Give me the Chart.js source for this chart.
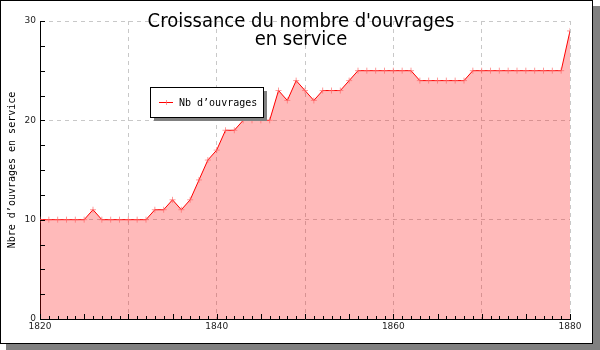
<!DOCTYPE html>
<html>
<head>
<meta charset="utf-8">
<script src="https://cdn.jsdelivr.net/npm/chart.js@4/dist/chart.umd.min.js"></script>
<style>
  html, body { margin: 0; padding: 0; background: #fff; }
  #wrap { width: 600px; height: 350px; position: relative; }
</style>
</head>
<body>
<div id="wrap"><canvas id="chart" width="600" height="350"></canvas></div>
<script>
// years 1820 -> 1880
const years = [];
for (let y = 1820; y <= 1880; y++) years.push(y);

const nbOuvrages = [
  10, 10, 10, 10, 10, 10, 11, 10, 10, 10,   // 1820-1829
  10, 10, 10, 11, 11, 12, 11, 12, 14, 16,   // 1830-1839
  17, 19, 19, 20, 20, 20, 20, 23, 22, 24,   // 1840-1849
  23, 22, 23, 23, 23, 24, 25, 25, 25, 25,   // 1850-1859
  25, 25, 25, 24, 24, 24, 24, 24, 24, 25,   // 1860-1869
  25, 25, 25, 25, 25, 25, 25, 25, 25, 25,   // 1870-1879
  29                                        // 1880
];

const xTickLabels = [1820, 1840, 1860, 1880];
const yTickLabels = [0, 10, 20, 30];
const titleLines = ["Croissance du nombre d'ouvrages", "en service"];
const legendLabel = "Nb d\u2019ouvrages";
const yAxisTitle = "Nbre d\u2019ouvrages en service";

// frame with drop shadow, title, small ticks and legend box
const decorations = {
  id: 'decorations',
  beforeDraw(chart) {
    const ctx = chart.ctx;
    ctx.save();
    ctx.fillStyle = '#808080';
    ctx.fillRect(593, 6, 7, 344);
    ctx.fillRect(6, 344, 594, 6);
    ctx.fillStyle = '#fff';
    ctx.fillRect(0, 0, 593, 344);
    ctx.strokeStyle = '#000';
    ctx.lineWidth = 1;
    ctx.strokeRect(0.5, 0.5, 592, 343);
    ctx.restore();
  },
  afterDraw(chart) {
    const ctx = chart.ctx;
    const xs = chart.scales.x, ys = chart.scales.y;
    ctx.save();
    ctx.strokeStyle = '#000';
    ctx.lineWidth = 1;
    ctx.beginPath();
    // x minor ticks each year, bigger every 5
    for (let yr = 1820; yr <= 1880; yr++) {
      const px = Math.round(xs.getPixelForValue(yr)) + 0.5;
      const len = yr % 5 === 0 ? 5 : 3;
      ctx.moveTo(px, ys.bottom);
      ctx.lineTo(px, ys.bottom - len);
    }
    // y ticks every 2.5
    for (let v = 0; v <= 30; v += 2.5) {
      const py = Math.round(ys.getPixelForValue(v)) + 0.5;
      ctx.moveTo(xs.left, py);
      ctx.lineTo(xs.left + 5, py);
    }
    ctx.stroke();

    // title
    ctx.fillStyle = '#000';
    ctx.font = '20px "DejaVu Sans Condensed", "DejaVu Sans"';
    ctx.textAlign = 'center';
    ctx.textBaseline = 'alphabetic';
    ctx.fillText(titleLines[0], 301, 27);
    ctx.fillText(titleLines[1], 301, 45);

    // y axis title
    ctx.save();
    ctx.translate(12, 170);
    ctx.rotate(-Math.PI / 2);
    ctx.font = '10px "DejaVu Sans Mono"';
    ctx.textBaseline = 'middle';
    ctx.fillText(yAxisTitle, 0, 0);
    ctx.restore();

    // legend box
    const lx = 150, ly = 87, lw = 113, lh = 30;
    ctx.fillStyle = '#808080';
    ctx.fillRect(lx + 4, ly + 4, lw, lh);
    ctx.fillStyle = '#fff';
    ctx.fillRect(lx, ly, lw, lh);
    ctx.strokeStyle = '#000';
    ctx.strokeRect(lx + 0.5, ly + 0.5, lw, lh);
    ctx.strokeStyle = '#f00';
    ctx.beginPath();
    ctx.moveTo(lx + 9, ly + 15.5);
    ctx.lineTo(lx + 23, ly + 15.5);
    ctx.stroke();
    ctx.strokeStyle = 'rgba(255, 110, 110, 0.7)';
    ctx.beginPath();
    ctx.moveTo(lx + 16.5, ly + 13);
    ctx.lineTo(lx + 16.5, ly + 18);
    ctx.stroke();
    ctx.fillStyle = '#000';
    ctx.font = '10px "DejaVu Sans Mono"';
    ctx.textAlign = 'left';
    ctx.textBaseline = 'middle';
    ctx.fillText(legendLabel, lx + 29, ly + 16);
    ctx.restore();
  }
};

new Chart(document.getElementById('chart'), {
  type: 'line',
  data: {
    datasets: [{
      label: legendLabel,
      data: years.map((yr, i) => ({ x: yr, y: nbOuvrages[i] })),
      borderColor: '#ff0000',
      borderWidth: 1,
      backgroundColor: 'rgba(255, 0, 0, 0.27)',
      fill: 'origin',
      tension: 0,
      pointStyle: 'cross',
      pointRadius: 3,
      pointBorderWidth: 1,
      pointBorderColor: 'rgba(255, 100, 100, 0.65)',
      pointBackgroundColor: 'rgba(255, 100, 100, 0.65)'
    }]
  },
  options: {
    responsive: false,
    animation: false,
    layout: { padding: { left: 0, right: 30, top: 21, bottom: 0 } },
    plugins: { legend: { display: false }, tooltip: { enabled: false } },
    scales: {
      x: {
        type: 'linear',
        min: 1820,
        max: 1880,
        afterFit(scale) { scale.height = 31; },
        afterBuildTicks(scale) {
          scale.ticks = [1820, 1830, 1840, 1850, 1860, 1870, 1880].map(v => ({ value: v }));
        },
        ticks: {
          maxRotation: 0,
          autoSkip: false,
          padding: 2,
          color: '#222',
          font: { family: 'DejaVu Sans', size: 9 },
          callback: v => xTickLabels.includes(v) ? String(v) : ''
        },
        grid: {
          color: '#c8c8c8',
          lineWidth: 1,
          drawTicks: false
        },
        border: { display: true, color: '#000', width: 1, dash: [4, 4] }
      },
      y: {
        min: 0,
        max: 30,
        afterFit(scale) { scale.width = 40; },
        afterBuildTicks(scale) {
          scale.ticks = yTickLabels.map(v => ({ value: v }));
        },
        ticks: {
          padding: 4,
          color: '#222',
          font: { family: 'DejaVu Sans', size: 9 },
          callback: v => String(v)
        },
        grid: {
          color: '#c8c8c8',
          lineWidth: 1,
          drawTicks: false
        },
        border: { display: true, color: '#000', width: 1, dash: [4, 4] }
      }
    }
  },
  plugins: [decorations]
});
</script>
</body>
</html>
